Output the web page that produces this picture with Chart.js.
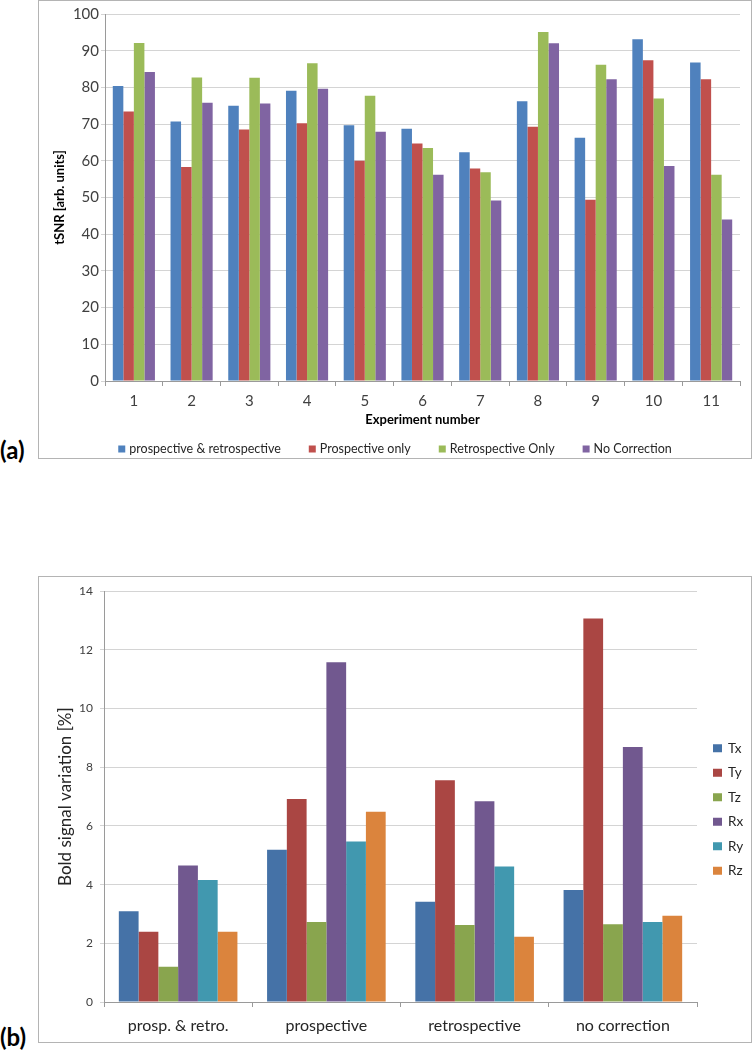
<!DOCTYPE html>
<html><head><meta charset="utf-8">
<script src="https://cdn.jsdelivr.net/npm/chart.js@4.4.0/dist/chart.umd.min.js"></script>
<style>
html,body{margin:0;padding:0;background:#fff;width:753px;height:1050px;overflow:hidden;font-family:Lato,sans-serif;}
.box{position:absolute;border:1px solid #b4b4b4;background:#fff;}
#boxA{left:38px;top:0px;width:712px;height:457px;}
#boxB{left:38px;top:576px;width:712px;height:465px;}
canvas{display:block;}
.lab{position:absolute;left:0px;font-weight:bold;font-size:24px;line-height:28px;color:#000;font-family:Lato,sans-serif;}
</style></head><body>
<div id="boxA" class="box"><canvas id="cA" width="712" height="457" style="width:712px;height:457px"></canvas></div>
<div id="boxB" class="box"><canvas id="cB" width="712" height="465" style="width:712px;height:465px"></canvas></div>
<div class="lab" style="top:436px;">(a)</div>
<div class="lab" style="top:1023px;">(b)</div>
<script>
// ---------- Data: chart (a) ----------
const experiments = ['1','2','3','4','5','6','7','8','9','10','11'];
const seriesNamesA = ['prospective & retrospective','Prospective only','Retrospective Only','No Correction'];
const prospRetro = [80.4,70.7,75.0,79.1,69.7,68.7,62.3,76.2,66.3,93.1,86.8];
const prospOnly  = [73.4,58.3,68.5,70.2,60.0,64.7,57.9,69.3,49.4,87.4,82.2];
const retroOnly  = [92.1,82.7,82.6,86.6,77.7,63.5,56.9,95.1,86.2,77.0,56.2];
const noCorr     = [84.2,75.8,75.6,79.6,67.9,56.2,49.2,92.0,82.2,58.6,44.0];
const yMinA = 0, yMaxA = 100, yStepA = 10;

// ---------- Data: chart (b) ----------
const methods = ['prosp. & retro.','prospective','retrospective','no correction'];
const seriesNamesB = ['Tx','Ty','Tz','Rx','Ry','Rz'];
const Tx = [3.09,5.19,3.42,3.82];
const Ty = [2.39,6.92,7.56,13.07];
const Tz = [1.20,2.73,2.62,2.65];
const Rx = [4.65,11.58,6.84,8.69];
const Ry = [4.16,5.47,4.62,2.73];
const Rz = [2.39,6.48,2.22,2.94];
const yMinB = 0, yMaxB = 14, yStepB = 2;

const colorsA = ['#4F81BD','#C0504D','#9BBB59','#8064A2'];
const colorsB = ['#4572A7','#AA4643','#89A54E','#71588F','#4198AF','#DB843D'];

const customLegend = {
  id: 'customLegend',
  afterDraw(chart, args, o) {
    const ctx = chart.ctx;
    ctx.save();
    ctx.font = o.font;
    ctx.fillStyle = o.color;
    ctx.textBaseline = 'middle';
    const items = chart.data.datasets.map(d => ({ text: d.label, color: d.backgroundColor }));
    if (o.layout === 'row') {
      const widths = items.map(it => ctx.measureText(it.text).width);
      let total = 0;
      widths.forEach((w, i) => { total += o.box + o.gap1 + w + (i ? o.gap2 : 0); });
      let x = chart.width / 2 - total / 2;
      items.forEach((it, i) => {
        ctx.fillStyle = it.color;
        ctx.fillRect(x, o.y - o.box / 2, o.box, o.box);
        ctx.fillStyle = o.color;
        ctx.fillText(it.text, x + o.box + o.gap1, o.y);
        x += o.box + o.gap1 + widths[i] + o.gap2;
      });
    } else {
      const y0 = chart.height / 2 - (items.length - 1) * o.step / 2;
      items.forEach((it, i) => {
        const y = y0 + i * o.step;
        ctx.fillStyle = it.color;
        ctx.fillRect(o.x, y - o.boxH / 2, o.box, o.boxH);
        ctx.fillStyle = o.color;
        ctx.fillText(it.text, o.x + o.box + o.gap1, y);
      });
    }
    ctx.restore();
  }
};

function draw() {
  Chart.defaults.font.family = 'Lato, sans-serif';
  Chart.defaults.color = '#404040';

  const dataA = [prospRetro, prospOnly, retroOnly, noCorr];
  new Chart(document.getElementById('cA'), {
    type: 'bar',
    data: {
      labels: experiments,
      datasets: dataA.map((d, i) => ({
        label: seriesNamesA[i], data: d, backgroundColor: colorsA[i],
        borderWidth: 0, categoryPercentage: 0.73, barPercentage: 1.0
      }))
    },
    options: {
      responsive: false, animation: false,
      layout: { padding: { top: 13, right: 11, bottom: 1, left: 0 } },
      plugins: {
        legend: { display: false }, tooltip: { enabled: false },
        customLegend: { layout: 'row', font: '12.5px Lato, sans-serif', color: '#262626', y: 448, box: 7, gap1: 4, gap2: 28 }
      },
      scales: {
        x: {
          offset: true,
          grid: { offset: true, drawOnChartArea: false, color: '#9a9a9a', tickLength: 5 },
          border: { color: '#9a9a9a' },
          ticks: { font: { size: 15 }, color: '#404040', padding: 6 },
          title: { display: true, text: 'Experiment number', font: { size: 13, weight: 'bold' }, color: '#000', padding: { top: 0, bottom: 29 } },
          afterFit(s) { s.height = 76; }
        },
        y: {
          min: yMinA, max: yMaxA,
          ticks: { stepSize: yStepA, font: { size: 15 }, color: '#404040', padding: 2 },
          grid: { color: '#d4d4d4', tickLength: 4 },
          border: { color: '#9a9a9a' },
          title: { display: true, text: 'tSNR [arb. units]', font: { size: 13, weight: 'bold' }, color: '#000', padding: { top: 13 } },
          afterFit(s) { s.width = 66; }
        }
      }
    },
    plugins: [customLegend]
  });

  const dataB = [Tx, Ty, Tz, Rx, Ry, Rz];
  new Chart(document.getElementById('cB'), {
    type: 'bar',
    data: {
      labels: methods,
      datasets: dataB.map((d, i) => ({
        label: seriesNamesB[i], data: d, backgroundColor: colorsB[i],
        borderWidth: 0, categoryPercentage: 0.8, barPercentage: 1.0
      }))
    },
    options: {
      responsive: false, animation: false,
      layout: { padding: { top: 11, right: 54, bottom: 0, left: 0 } },
      plugins: {
        legend: { display: false }, tooltip: { enabled: false },
        customLegend: { layout: 'column', font: '13.5px Lato, sans-serif', color: '#262626', x: 674, box: 9, boxH: 8, gap1: 6, step: 24.5 }
      },
      scales: {
        x: {
          offset: true,
          grid: { offset: true, drawOnChartArea: false, color: '#9a9a9a', tickLength: 5 },
          border: { color: '#9a9a9a' },
          ticks: { font: { size: 16 }, color: '#262626', padding: 9 },
          afterFit(s) { s.height = 40; }
        },
        y: {
          min: yMinB, max: yMaxB,
          ticks: { stepSize: yStepB, font: { size: 12 }, color: '#404040', padding: 7 },
          grid: { color: '#d4d4d4', tickLength: 4 },
          border: { color: '#9a9a9a' },
          title: { display: true, text: 'Bold signal variation [%]', font: { size: 17 }, color: '#262626', padding: { top: 16 } },
          afterFit(s) { s.width = 65; }
        }
      }
    },
    plugins: [customLegend]
  });
}

if (document.fonts && document.fonts.load) {
  Promise.all([document.fonts.load('13px Lato'), document.fonts.load('bold 13px Lato')]).then(draw, draw);
} else { draw(); }
</script>
</body></html>
